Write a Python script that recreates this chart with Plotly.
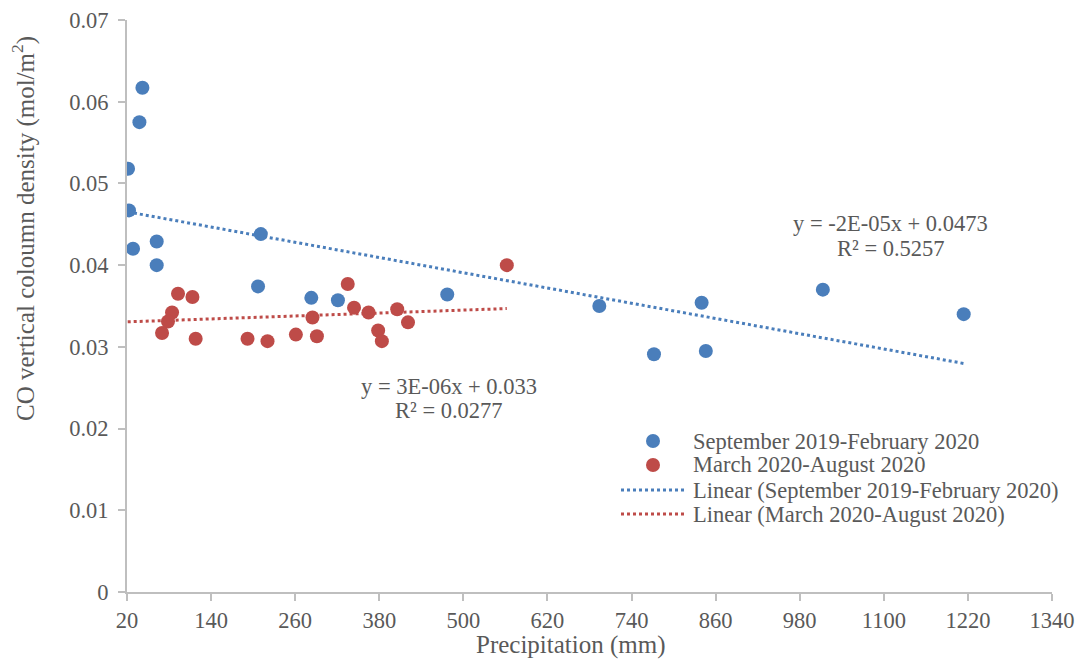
import numpy as np
import plotly.graph_objects as go

# Precipitation (mm) and CO vertical column density (mol/m2)
sep_feb_precip = [42, 37.7, 21.5, 22.9, 28.6, 62.4, 62.4, 211, 207, 283, 321,
                  477, 694, 772, 840, 846, 1013, 1214]
sep_feb_co = [0.0617, 0.0575, 0.0518, 0.0467, 0.0420, 0.0429, 0.0400, 0.0438,
              0.0374, 0.0360, 0.0357, 0.0364, 0.0350, 0.0291, 0.0354, 0.0295,
              0.0370, 0.0340]

mar_aug_precip = [92.8, 113.4, 84.3, 78.5, 70, 118, 192, 220.5, 261, 284.7,
                  291, 335, 344, 364.7, 378.4, 383.7, 405.6, 421, 562]
mar_aug_co = [0.0365, 0.0361, 0.0342, 0.0331, 0.0317, 0.0310, 0.0310, 0.0307,
              0.0315, 0.0336, 0.0313, 0.0377, 0.0348, 0.0342, 0.0320, 0.0307,
              0.0346, 0.0330, 0.0400]

# reported trendline for the March-August series
mar_aug_slope = 3e-06
mar_aug_intercept = 0.033

x_ticks = list(range(20, 1341, 120))
y_ticks = [0, 0.01, 0.02, 0.03, 0.04, 0.05, 0.06, 0.07]

series_names = ["September 2019-February 2020", "March 2020-August 2020"]

BLUE = "#4a7ebb"
RED = "#be4b48"
GREY = "#595959"
AXIS = "#bfbfbf"
FONT = "Liberation Serif"
W, H = 1078, 664
M_L, M_R, M_T, M_B = 127, 26, 20, 72


def px_to_paper_x(px):
    return (px - M_L) / (W - M_L - M_R)


def px_to_paper_y(py):
    return (H - M_B - py) / (H - M_T - M_B)


fig = go.Figure()
fig.add_trace(go.Scatter(x=sep_feb_precip, y=sep_feb_co, mode="markers",
                         name=series_names[0],
                         marker=dict(color=BLUE, size=14)))
fig.add_trace(go.Scatter(x=mar_aug_precip, y=mar_aug_co, mode="markers",
                         name=series_names[1],
                         marker=dict(color=RED, size=14)))

# least-squares line for September-February
b_slope, b_icpt = np.polyfit(sep_feb_precip, sep_feb_co, 1)
bx = np.array([min(sep_feb_precip), max(sep_feb_precip)])
fig.add_trace(go.Scatter(x=bx, y=b_slope * bx + b_icpt, mode="lines",
                         name="Linear (" + series_names[0] + ")",
                         line=dict(color=BLUE, width=3, dash="dot")))
rx = np.array([21, max(mar_aug_precip)])
fig.add_trace(go.Scatter(x=rx, y=mar_aug_slope * rx + mar_aug_intercept,
                         mode="lines",
                         name="Linear (" + series_names[1] + ")",
                         line=dict(color=RED, width=3, dash="dot")))

ann_font = dict(family=FONT, size=22.5, color=GREY)
for x, y, txt in [(1110, 0.04514, "y = -2E-05x + 0.0473"),
                  (1110, 0.04208, "R² = 0.5257"),
                  (480, 0.02519, "y = 3E-06x + 0.033"),
                  (480, 0.02225, "R² = 0.0277")]:
    fig.add_annotation(x=x, y=y, text=txt, showarrow=False, font=ann_font,
                       xanchor="center", yanchor="middle")

# axis titles
title_font = dict(family=FONT, size=25, color=GREY)
fig.add_annotation(xref="paper", yref="paper",
                   x=px_to_paper_x(571), y=px_to_paper_y(645),
                   text="Precipitation (mm)", showarrow=False, font=title_font,
                   xanchor="center", yanchor="middle")
fig.add_annotation(xref="paper", yref="paper",
                   x=px_to_paper_x(23), y=px_to_paper_y(229), textangle=-90,
                   text="CO vertical coloumn density (mol/m<sup>2</sup>)",
                   showarrow=False, font=title_font,
                   xanchor="center", yanchor="middle")

# legend: symbol column and text column
legend_rows = [441, 465, 490, 514]
legend_labels = [series_names[0], series_names[1],
                 "Linear (" + series_names[0] + ")",
                 "Linear (" + series_names[1] + ")"]
for i, (py, label) in enumerate(zip(legend_rows, legend_labels)):
    color = BLUE if i % 2 == 0 else RED
    if i < 2:
        fig.add_shape(type="circle", xref="paper", yref="paper",
                      xsizemode="pixel", ysizemode="pixel",
                      xanchor=px_to_paper_x(653), yanchor=px_to_paper_y(py),
                      x0=-7, x1=7, y0=-7, y1=7,
                      fillcolor=color, line=dict(width=0))
    else:
        fig.add_shape(type="line", xref="paper", yref="paper",
                      x0=px_to_paper_x(621), x1=px_to_paper_x(684),
                      y0=px_to_paper_y(py), y1=px_to_paper_y(py),
                      line=dict(color=color, width=3, dash="dot"))
    fig.add_annotation(xref="paper", yref="paper",
                       x=px_to_paper_x(691), y=px_to_paper_y(py),
                       text=label, showarrow=False,
                       font=dict(family=FONT, size=22.5, color=GREY),
                       xanchor="left", yanchor="middle")

axis_common = dict(showgrid=False, zeroline=False, showline=True,
                   linecolor=AXIS, linewidth=2, ticks="outside",
                   tickcolor=AXIS, ticklen=7, tickwidth=1.5,
                   automargin=False,
                   tickfont=dict(family=FONT, size=22.5, color=GREY))

fig.update_layout(
    width=W, height=H,
    margin=dict(l=M_L, r=M_R, t=M_T, b=M_B),
    paper_bgcolor="white", plot_bgcolor="white",
    font=dict(family=FONT, color=GREY),
    showlegend=False,
    xaxis=dict(range=[20, 1340], tickvals=x_ticks, **axis_common),
    yaxis=dict(range=[0, 0.07], tickvals=y_ticks,
               ticktext=["0" if v == 0 else f"{v:.2f}" for v in y_ticks],
               ticklabelstandoff=5,
               **axis_common),
)

fig.write_html("out.html")
